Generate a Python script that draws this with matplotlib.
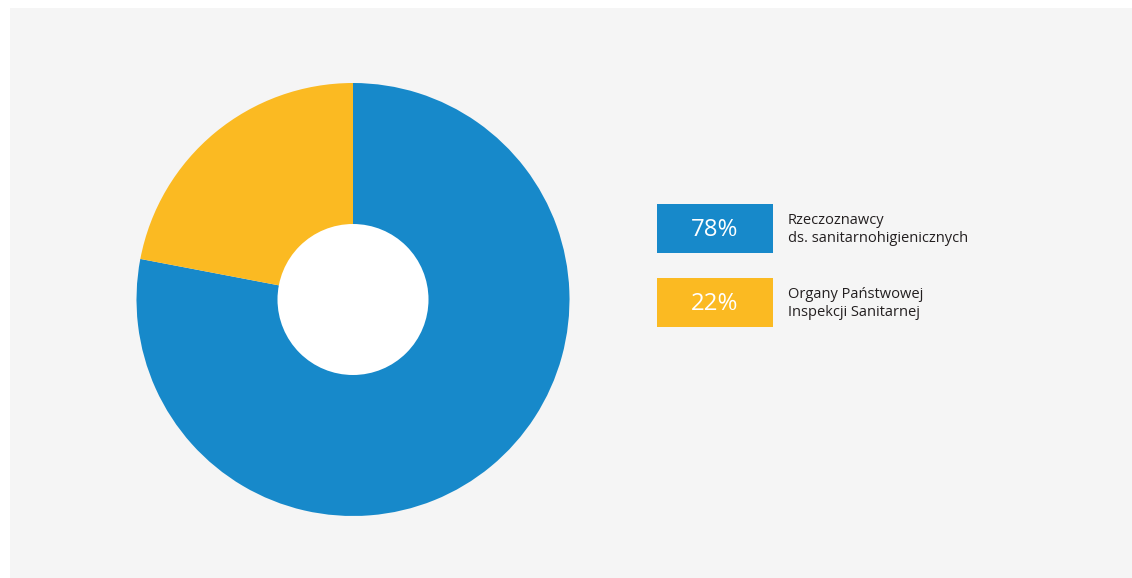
import matplotlib
matplotlib.use("Agg")
import matplotlib.pyplot as plt
from matplotlib.patches import Rectangle, Circle

# Data
categories = ["Rzeczoznawcy\nds. sanitarnohigienicznych",
              "Organy Państwowej\nInspekcji Sanitarnej"]
shares = [78, 22]
colors = ["#1789CA", "#FBBA22"]

W, H = 1132, 578
fig = plt.figure(figsize=(W / 100, H / 100), dpi=100)
fig.patch.set_facecolor("white")
ax = fig.add_axes([0, 0, 1, 1])

# Light panel behind the chart
ax.add_patch(Rectangle((10, 0), W - 10, H - 8, facecolor="#F5F5F5",
                       edgecolor="none", zorder=0))

# Donut
cx, cy = 353, H - 299.5
r_out, r_in = 216.5, 75.5
ax.pie(shares, colors=colors, startangle=90, counterclock=False,
       center=(cx, cy), radius=r_out,
       wedgeprops=dict(linewidth=0, edgecolor="none"))
ax.add_patch(Circle((cx, cy), r_in, facecolor="white", edgecolor="none",
                    zorder=5))

# Legend boxes with percentages
box_x, box_w, box_h = 657, 116, 49
box_tops = [204, 278]
for top, share, col, lab in zip(box_tops, shares, colors, categories):
    y0 = H - top - box_h
    ax.add_patch(Rectangle((box_x, y0), box_w, box_h, facecolor=col,
                           edgecolor="none", zorder=3))
    ax.text(box_x + box_w / 2, y0 + box_h / 2 - 1, f"{share}%",
            color="white", fontsize=17.3, family="Open Sans",
            ha="center", va="center", zorder=4)
    ax.text(788, y0 + box_h / 2 - 1, lab, color="#231F20", fontsize=10.5,
            family="Open Sans", ha="left", va="center",
            linespacing=1.3, zorder=4)

ax.set_xlim(0, W)
ax.set_ylim(0, H)
ax.set_aspect("equal")
ax.axis("off")

fig.savefig("out.png", dpi=100, facecolor="white")
